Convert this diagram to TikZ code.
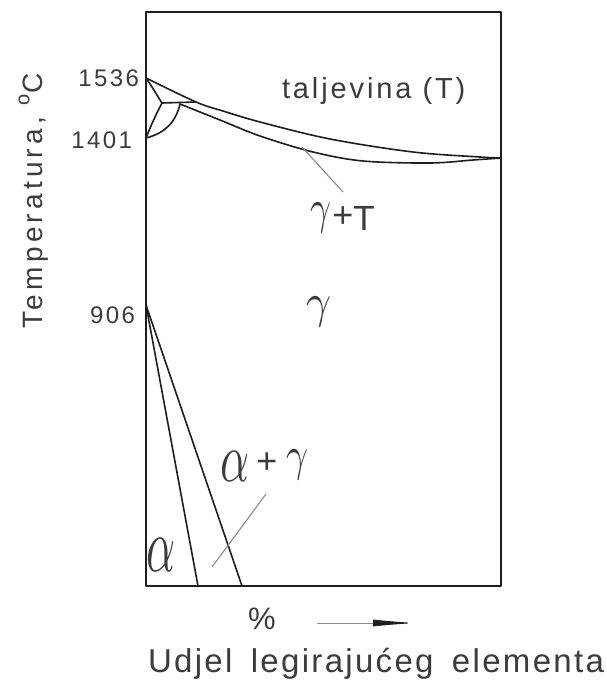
\documentclass[tikz,border=0pt]{standalone}
\usepackage{fontspec}
\usepackage{graphicx}
\usetikzlibrary{arrows.meta}
\newfontfamily\lbl[LetterSpace=10]{Liberation Sans}
\newfontfamily\lblw[LetterSpace=15]{Liberation Sans}
\newfontfamily\lbln[LetterSpace=7]{Liberation Sans}
\definecolor{ink}{HTML}{1E1E1E}
\definecolor{txt}{HTML}{3C3C3C}
\definecolor{lead}{HTML}{8C8C8C}
\newcommand{\glyphbox}[3]{\resizebox*{#1pt}{#2pt}{$#3$}}
\newcommand{\fs}[1]{\fontsize{#1}{#1}\selectfont}
\begin{document}
\begin{tikzpicture}[x=1pt,y=-1pt,
  phase/.style={draw=ink,line width=1.6pt,line join=round,line cap=round},
  leader/.style={draw=lead,line width=1.1pt},
  lab/.style={inner sep=0pt,outer sep=0pt,text=txt,font=\lbl},
  greek/.style={inner sep=0pt,outer sep=0pt,text=txt}
]
\useasboundingbox (0,0) rectangle (607,682);
\fill[white] (0,0) rectangle (607,682);
% frame
\draw[phase,line cap=butt] (146,12) rectangle (501,586);
% key points
\coordinate (m) at (146,78);
\coordinate (g) at (146,138);
\coordinate (p) at (162,103);
\coordinate (s) at (180,104);
\coordinate (l) at (196,102);
\coordinate (e) at (501,158);
\coordinate (a) at (146,305);
\coordinate (b1) at (198,586);
\coordinate (b2) at (242,586);
% liquidus
\draw[phase] plot[smooth,tension=0.55] coordinates {(146,78) (196,102) (223,111) (260,122) (330,139) (413,152) (480,157) (501,158)};
% solidus
\draw[phase] plot[smooth,tension=0.55] coordinates {(180,104) (220,120) (260,136) (313,152) (363,161) (430,163) (473,160) (501,158)};
% peritectic
\draw[phase] (p) -- (l);
% delta field
\draw[phase] (m) .. controls (153,88) and (158,97) .. (p) .. controls (155,116) and (150,128) .. (g);
% gamma boundary
\draw[phase] (s) .. controls (176,121) and (166,133) .. (g);
% alpha lines
\draw[phase] (a) -- (b1);
\draw[phase] (a) -- (b2);
% leaders
\coordinate (la1) at (302,147);
\coordinate (la2) at (343,192);
\draw[leader] (la1) -- (la2);
\coordinate (lb1) at (266,494);
\coordinate (lb2) at (212,567);
\draw[leader] (lb1) -- (lb2);
% tick labels
\node[lab,anchor=base east,font=\lbl\fs{24}] (t1536) at (139,87) {1536};
\node[lab,anchor=base east,font=\lbl\fs{24}] (t1401) at (132,148) {1401};
\node[lab,anchor=base east,font=\lbl\fs{24}] (t906) at (135,323) {906};
% axis label
\node[lab,anchor=base,rotate=90,font=\lblw\fs{28}] (ylab) at (42,201) {Temperatura, \raisebox{0.45em}{\fs{20}o}C};
% region labels
\node[lab,anchor=base west,font=\lbl\fs{29}] (melt) at (282,99) {taljevina (T)};
\node[greek] (gT1) at (321,218) {\glyphbox{21}{30}{\gamma}};
\node[lab,font=\lbl\fs{36}] (gT2) at (343,217) {+};
\node[lab,anchor=base,font=\lbl\fs{35}] (gT3) at (364,230) {T};
\node[greek] (gam) at (319,312) {\glyphbox{25}{30}{\gamma}};
\node[greek] (ag1) at (234.5,466) {\glyphbox{29}{30}{\alpha}};
\node[lab,font=\lbl\fs{36}] (ag2) at (267,463) {+};
\node[greek] (ag3) at (297,465) {\glyphbox{22}{30}{\gamma}};
\node[greek] (alp) at (160.5,555) {\glyphbox{29}{33}{\alpha}};
% x axis
\node[lab,font=\lbl\fs{31}] (pct) at (262,619) {\%};
\coordinate (ar1) at (317,623);
\coordinate (ar2) at (417,623);
\draw[draw=lead,line width=1pt,-{Latex[length=44pt,width=7pt,color=ink]}] (ar1) -- (ar2);
\node[lab,anchor=base west,font=\lbln\fs{33}] (xlab) at (148,672) {Udjel\hspace{7pt} legirajućeg\hspace{7pt} elementa};
\end{tikzpicture}
\end{document}
